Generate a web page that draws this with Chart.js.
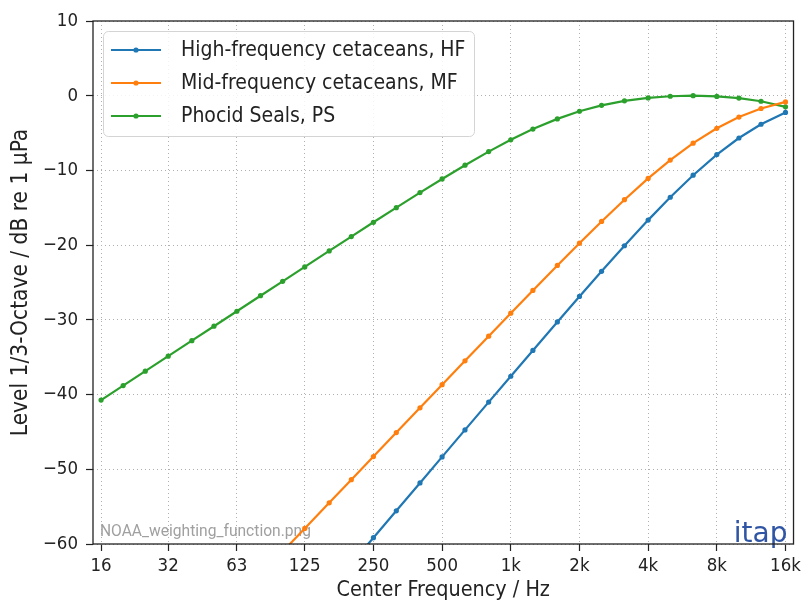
<!DOCTYPE html>
<html>
<head>
<meta charset="utf-8">
<title>NOAA weighting functions</title>
<script src="https://cdn.jsdelivr.net/npm/chart.js@4/dist/chart.umd.min.js"></script>
<style>
  html, body { margin: 0; padding: 0; background: #fff; }
  #wrap { width: 805px; height: 609px; }
</style>
</head>
<body>
<div id="wrap"><canvas id="weighting" width="805" height="609"></canvas></div>
<script>
'use strict';
// third-octave band centre frequencies / Hz
var bandFreqs = [16, 20, 25, 31.5, 40, 50, 63, 80, 100, 125, 160, 200, 250, 315, 400, 500,
  630, 800, 1000, 1250, 1600, 2000, 2500, 3150, 4000, 5000, 6300, 8000, 10000, 12500, 16000];

// weighting per band / dB (null = far below the plotted range)
var hfLevels = [null, null, null, null, null, null, null, null, null, null, null,
  -62.65, -59.16, -55.56, -51.83, -48.34, -44.73, -41.01, -37.55, -34.09, -30.28,
  -26.87, -23.50, -20.08, -16.65, -13.59, -10.64, -7.88, -5.66, -3.82, -2.24];
var mfLevels = [null, null, null, null, null, null, null, null,
  -61.02, -57.92, -54.49, -51.39, -48.30, -45.09, -41.77, -38.68, -35.48, -32.18,
  -29.11, -26.06, -22.72, -19.74, -16.83, -13.92, -11.07, -8.62, -6.35, -4.36,
  -2.86, -1.71, -0.83];
var psLevels = [-40.74, -38.80, -36.87, -34.86, -32.78, -30.85, -28.85, -26.77, -24.84,
  -22.91, -20.77, -18.85, -16.94, -14.98, -12.97, -11.14, -9.30, -7.48, -5.90, -4.46,
  -3.10, -2.08, -1.29, -0.69, -0.29, -0.07, 0.00, -0.09, -0.32, -0.74, -1.49];

var seriesNames = ['High-frequency cetaceans, HF', 'Mid-frequency cetaceans, MF', 'Phocid Seals, PS'];
var seriesColors = ['#1f77b4', '#ff7f0e', '#2ca02c'];

// x ticks sit on the octave band centres
var xTickValues = [16, 31.5, 63, 125, 250, 500, 1000, 2000, 4000, 8000, 16000];
var xTickLabels = ['16', '32', '63', '125', '250', '500', '1k', '2k', '4k', '8k', '16k'];

var textFont = "'DejaVu Sans Condensed', 'DejaVu Sans', sans-serif";
var inkColor = '#222';

function toPoints(levels) {
  var pts = [];
  for (var i = 0; i < bandFreqs.length; i++) {
    pts.push({x: bandFreqs[i], y: levels[i]});
  }
  return pts;
}

function makeDataset(idx, levels) {
  return {
    label: seriesNames[idx],
    data: toPoints(levels),
    borderColor: seriesColors[idx],
    backgroundColor: seriesColors[idx],
    borderWidth: 2.2,
    pointRadius: 2.6,
    pointBorderWidth: 0,
    pointHoverRadius: 2.6,
    tension: 0,
    spanGaps: false
  };
}

// frame, legend box and the small captions
var decorations = {
  id: 'decorations',
  beforeDatasetsDraw: function(chart) {
    var ctx = chart.ctx;
    var area = chart.chartArea;
    ctx.save();
    ctx.fillStyle = '#a0a0a0';
    ctx.font = '15.6px Roboto';
    ctx.textBaseline = 'alphabetic';
    ctx.fillText('NOAA_weighting_function.png', area.left + 7, area.bottom - 8);
    ctx.restore();
  },
  afterDraw: function(chart) {
    var ctx = chart.ctx;
    var area = chart.chartArea;
    ctx.save();

    // itap mark in the lower right corner
    ctx.fillStyle = '#2f55a4';
    ctx.font = '28px "DejaVu Sans"';
    ctx.textAlign = 'right';
    ctx.textBaseline = 'alphabetic';
    ctx.fillText('itap', area.right - 6, area.bottom - 2);

    // box around the plot
    ctx.strokeStyle = '#222';
    ctx.lineWidth = 1.3;
    ctx.strokeRect(area.left, area.top, area.right - area.left, area.bottom - area.top);

    // legend
    var bx = area.left + 10.5, by = area.top + 10.5, bw = 371, bh = 105;
    ctx.beginPath();
    ctx.roundRect(bx, by, bw, bh, 5);
    ctx.fillStyle = 'rgba(255,255,255,0.85)';
    ctx.fill();
    ctx.strokeStyle = '#d4d4d4';
    ctx.lineWidth = 1;
    ctx.stroke();
    ctx.font = '21px ' + textFont;
    ctx.textAlign = 'left';
    ctx.textBaseline = 'middle';
    for (var i = 0; i < seriesNames.length; i++) {
      var rowY = by + 18.5 + i * 33;
      ctx.strokeStyle = seriesColors[i];
      ctx.lineWidth = 2.2;
      ctx.beginPath();
      ctx.moveTo(bx + 7.5, rowY);
      ctx.lineTo(bx + 57.5, rowY);
      ctx.stroke();
      ctx.fillStyle = seriesColors[i];
      ctx.beginPath();
      ctx.arc(bx + 32.5, rowY, 2.6, 0, Math.PI * 2);
      ctx.fill();
      ctx.fillStyle = inkColor;
      ctx.fillText(seriesNames[i], bx + 77.5, rowY + 1);
    }
    ctx.restore();
  }
};

Chart.defaults.font.family = textFont;
Chart.defaults.color = inkColor;

var ctx = document.getElementById('weighting').getContext('2d');
var chart = new Chart(ctx, {
  type: 'line',
  data: {
    datasets: [makeDataset(0, hfLevels), makeDataset(1, mfLevels), makeDataset(2, psLevels)]
  },
  options: {
    responsive: false,
    devicePixelRatio: 1,
    animation: false,
    layout: { padding: { left: 0, right: 9, top: 21, bottom: 0 } },
    plugins: {
      legend: { display: false },
      tooltip: { enabled: false }
    },
    scales: {
      x: {
        type: 'logarithmic',
        min: 14.75,
        max: 17350,
        afterBuildTicks: function(scale) {
          scale.ticks = xTickValues.map(function(v) { return {value: v}; });
        },
        afterFit: function(scale) { scale.height = 65; },
        ticks: {
          autoSkip: false,
          maxRotation: 0,
          padding: 4,
          font: { size: 18.5 },
          color: inkColor,
          callback: function(value) {
            var idx = xTickValues.indexOf(value);
            return idx >= 0 ? xTickLabels[idx] : '';
          }
        },
        grid: {
          color: '#b0b0b0',
          lineWidth: 1,
          tickLength: 7,
          tickColor: '#222',
          tickWidth: 1.2
        },
        border: { display: false, dash: [1, 3] },
        title: {
          display: true,
          text: 'Center Frequency / Hz',
          font: { size: 21.4 },
          color: inkColor,
          padding: { top: 0, bottom: 6 }
        }
      },
      y: {
        type: 'linear',
        min: -60,
        max: 10,
        afterFit: function(scale) { scale.width = 93; },
        ticks: {
          stepSize: 10,
          padding: 8,
          font: { size: 18.5 },
          color: inkColor,
          callback: function(value) {
            return value < 0 ? '\u2212' + Math.abs(value) : String(value);
          }
        },
        grid: {
          color: '#b0b0b0',
          lineWidth: 1,
          tickLength: 7,
          tickColor: '#222',
          tickWidth: 1.2
        },
        border: { display: false, dash: [1, 3] },
        title: {
          display: true,
          text: 'Level 1/3-Octave / dB re 1 \u03bcPa',
          font: { size: 22.5 },
          color: inkColor,
          padding: { top: 8, bottom: 0 }
        }
      }
    }
  },
  plugins: [decorations]
});
</script>
</body>
</html>
